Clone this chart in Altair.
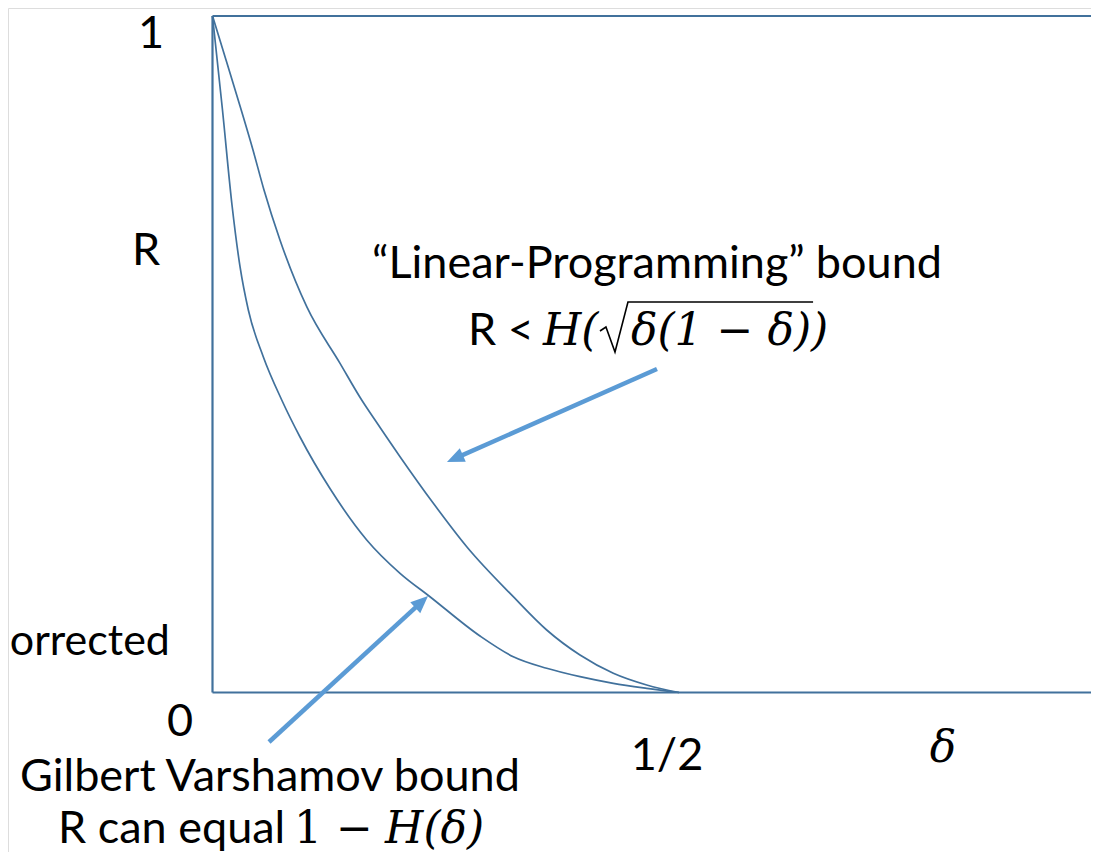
import math
import altair as alt
import pandas as pd

# ---- data (delta on x, rate R on y) ----
gv_delta = [0.0, 0.0107, 0.0209, 0.0295, 0.0384, 0.0544, 0.0742, 0.0938, 0.1259,
            0.1653, 0.2010, 0.2331, 0.2867, 0.3224, 0.3582, 0.3939, 0.4296, 0.4654, 0.5]
gv_rate = [1.0, 0.8610, 0.7206, 0.6294, 0.5654, 0.4964, 0.4324, 0.3777, 0.3015,
           0.2255, 0.1762, 0.1416, 0.0835, 0.0529, 0.0358, 0.0234, 0.0136, 0.0062, 0.0]

lp_delta = [0.0, 0.0145, 0.0295, 0.0434, 0.0552, 0.0723, 0.1010, 0.1367, 0.1599, 0.1742,
            0.2010, 0.2367, 0.2725, 0.3224, 0.3582, 0.3939, 0.4296, 0.4654, 0.5]
lp_rate = [1.0, 0.9350, 0.8670, 0.8020, 0.7428, 0.6689, 0.5703, 0.4866, 0.4324, 0.4028,
           0.3486, 0.2797, 0.2155, 0.1416, 0.0924, 0.0554, 0.0284, 0.0111, 0.0]

# arrows: tail -> tip (data units)
arrow_names = ["lp", "gv"]
arrow_tail_x = [0.4764, 0.0606]
arrow_tail_y = [0.4782, -0.0732]
arrow_tip_x = [0.2513, 0.2310]
arrow_tip_y = [0.3407, 0.1426]

# sans labels (centered)
sans_text = ["1", "R", "0", "1/2", "\u201cLinear-Programming\u201d bound", "Gilbert Varshamov bound"]
sans_x = [-0.0659, -0.0713, -0.0348, 0.4871, 0.4764, 0.0616]
sans_y = [0.9527, 0.6319, -0.0643, -0.1146, 0.6127, -0.1455]

left_text = ["R <", "R can equal"]
left_x = [0.2738, -0.1656]
left_y = [0.5137, -0.2225]

right_text = ["orrected"]
right_x = [-0.0456]
right_y = [0.0554]

# math pieces
serif_up_text = ["1 \u2212"]
serif_up_x = [0.0873]
serif_up_y = [-0.2225]

serif_it_text = ["H(", "\u03b4(1 \u2212 \u03b4))", "H(\u03b4)"]
serif_it_x = [0.3542, 0.4485, 0.1849]
serif_it_y = [0.5137, 0.5137, -0.2225]

axis_sym_text = ["\u03b4"]
axis_sym_x = [0.7830]
axis_sym_y = [-0.1027]

# radical sign of the square root (tick, down stroke, up stroke, overline)
rad_x = [0.4153, 0.4217, 0.4314, 0.4453, 0.6437]
rad_y = [0.5344, 0.5403, 0.5033, 0.5772, 0.5772]

# ---- layout ----
W, H = 1083, 844
PX_PER_X = 933.0
PX_PER_Y = 676.5
X0_PX, Y0_PX = 212.5 - 8, 692.5 - 8   # position of (0,0) inside the view
x_dom = [-X0_PX / PX_PER_X, (W - X0_PX) / PX_PER_X]
y_dom = [(Y0_PX - H) / PX_PER_Y, Y0_PX / PX_PER_Y]

xs = alt.Scale(domain=x_dom, nice=False, zero=False)
ys = alt.Scale(domain=y_dom, nice=False, zero=False)
LINE = "#41719C"
ARROW = "#5B9BD5"
SANS = "Lato"
SERIF = "DejaVu Serif"
FS = 45
MFS = 44


def X(f):
    return alt.X(f, type="quantitative", scale=xs, axis=None)


def Y(f):
    return alt.Y(f, type="quantitative", scale=ys, axis=None)


curves = pd.DataFrame(
    {"d": gv_delta + lp_delta,
     "r": gv_rate + lp_rate,
     "curve": ["gv"] * len(gv_delta) + ["lp"] * len(lp_delta),
     "i": list(range(len(gv_delta))) + list(range(len(lp_delta)))}
)
curve_layer = alt.Chart(curves).mark_line(
    color=LINE, strokeWidth=1.7, interpolate="monotone", clip=True
).encode(x=X("d"), y=Y("r"), detail="curve:N", order="i:Q")

box = pd.DataFrame({"x": [0, 0, 0], "x2": [0, x_dom[1] + 1, x_dom[1] + 1],
                    "y": [0, 1, 0], "y2": [1, 1, 0]})
box_layer = alt.Chart(box).mark_rule(color=LINE, strokeWidth=2.2, clip=True).encode(
    x=X("x"), x2="x2", y=Y("y"), y2="y2")

# arrows
rows = []
for n, tx, ty, hx, hy in zip(arrow_names, arrow_tail_x, arrow_tail_y, arrow_tip_x, arrow_tip_y):
    dxp = (hx - tx) * PX_PER_X
    dyp = -(hy - ty) * PX_PER_Y
    L = math.hypot(dxp, dyp)
    ux, uy = dxp / L, dyp / L
    ang = math.degrees(math.atan2(ux, -uy)) % 360
    back = 12.0
    ex = hx - ux * back / PX_PER_X
    ey = hy + uy * back / PX_PER_Y
    rows.append({"name": n, "tx": tx, "ty": ty, "ex": ex, "ey": ey, "hx": hx, "hy": hy, "ang": ang})
arr = pd.DataFrame(rows)
shaft = alt.Chart(arr).mark_rule(color=ARROW, strokeWidth=4.5, strokeCap="butt").encode(
    x=X("tx"), y=Y("ty"), x2="ex", y2="ey")
head = alt.Chart(arr).mark_point(
    shape="M0,0L0.85,2L-0.85,2Z", filled=True, color=ARROW, opacity=1, size=300, strokeWidth=0
).encode(x=X("hx"), y=Y("hy"), angle=alt.Angle("ang:Q", scale=None))


def text_layer(texts, xv, yv, align, font, size, style="normal"):
    df = pd.DataFrame({"t": texts, "x": xv, "y": yv})
    return alt.Chart(df).mark_text(
        align=align, baseline="alphabetic", font=font, fontSize=size, fontStyle=style,
        color="black"
    ).encode(x=X("x"), y=Y("y"), text="t:N")


t1 = text_layer(sans_text, sans_x, sans_y, "center", SANS, FS)
t2 = text_layer(left_text, left_x, left_y, "left", SANS, FS)
t3 = text_layer(right_text, right_x, right_y, "right", SANS, 43)
t4 = text_layer(serif_up_text, serif_up_x, serif_up_y, "left", SERIF, MFS)
t5 = text_layer(serif_it_text, serif_it_x, serif_it_y, "left", SERIF, MFS, "italic")
t6 = text_layer(axis_sym_text, axis_sym_x, axis_sym_y, "center", SERIF, 44, "italic")

rad = pd.DataFrame({"x": rad_x, "y": rad_y, "i": list(range(len(rad_x)))})
rad_layer = alt.Chart(rad).mark_line(color="black", strokeWidth=1.6, strokeJoin="miter").encode(
    x=X("x"), y=Y("y"), order="i:Q")

chart = alt.layer(
    box_layer, curve_layer, shaft, head, t1, t2, t3, t4, t5, t6, rad_layer
).properties(
    width=W, height=H, padding=0, autosize=alt.AutoSizeParams(type="none")
).configure_view(stroke=None).configure(background="white")

chart.save("out.html", embed_options={"renderer": "svg", "actions": False})
